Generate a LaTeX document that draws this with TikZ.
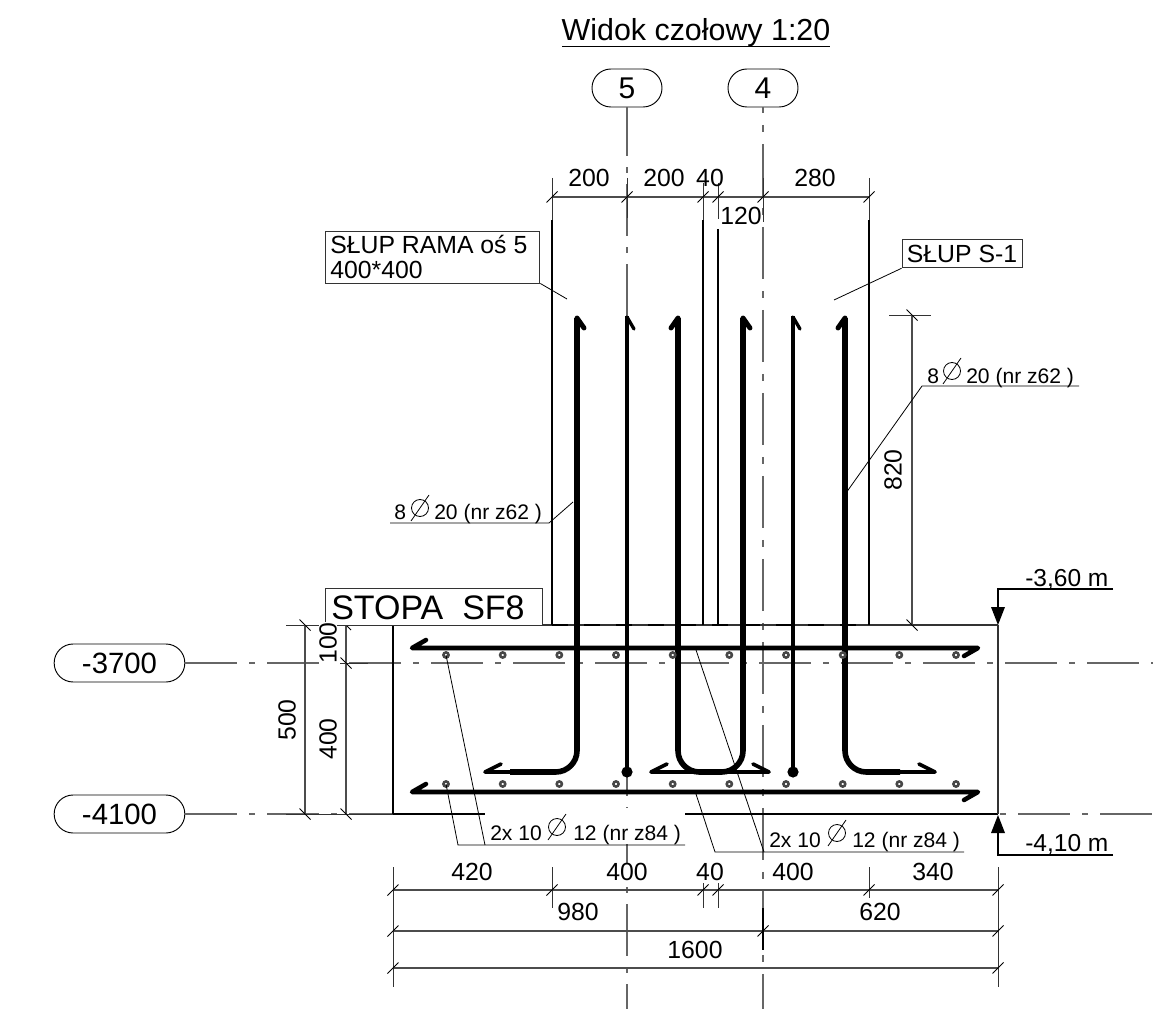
\documentclass[tikz,border=0pt]{standalone}
\usepackage{fontspec}
\setmainfont{Liberation Sans}
\newcommand\fs[1]{\fontsize{#1}{#1}\selectfont}
\newcommand\xtick[2]{\draw[tickline] (#1-5.5,#2+5.5) -- (#1+5.5,#2-5.5);}
\newcommand\ytick[2]{\draw[tickline] (#1-5.5,#2-5.5) -- (#1+5.5,#2+5.5);}
\newcommand\diamsym[2]{\draw[tickline] (#1,#2) circle[radius=8.5]; \draw[tickline] (#1-9,#2+13) -- (#1+9,#2-13);}
\tikzset{
  axisline/.style={draw=black!60,line width=0.85pt},
  dimline/.style={draw=black!70,line width=0.9pt},
  tickline/.style={draw=black,line width=0.6pt},
  extline/.style={draw=black!80,line width=0.7pt},
  leader/.style={draw=black,line width=0.6pt},
  outline/.style={draw=black,line width=1pt},
  wall/.style={draw=black,line width=1.7pt},
  barthick/.style={draw=black,line width=4.2pt,line join=miter},
  barthin/.style={draw=black,line width=2.6pt,line join=miter},
  barmain/.style={draw=black,line width=3.4pt,line join=round,line cap=round},
  hookbar/.style={draw=black,line width=2.8pt,line cap=round,line join=round},
  barhookthick/.style={draw=black,line width=3.7pt,line cap=round},
  barhookthin/.style={draw=black,line width=2.5pt,line cap=round},
  stirrup/.style={draw=black!72,fill=white,line width=1.9pt},
  dimtext/.style={font=\fs{18.6},inner sep=0pt,fill=white},
  labeltext/.style={font=\fs{15.8},inner sep=0pt,anchor=base west},
  bubble/.style={draw=black,line width=0.7pt,rectangle,rounded corners=14.2pt,fill=white,minimum height=28.5pt},
  levelmark/.style={fill=black,draw=none},
}
\begin{document}
\begin{tikzpicture}[x=0.75pt,y=-0.75pt]
\useasboundingbox (0,0) rectangle (1153,1009);
% title
\node[font=\fs{22.8},inner sep=0pt,anchor=base] (title) at (696,41) {Widok czołowy 1:20};
\draw[line width=0.9pt] (562,46.5) -- (830,46.5);
% axis bubbles
\node[bubble,minimum width=52.5pt,font=\fs{22.5}] (b5) at (627,88) {5};
\node[bubble,minimum width=52.5pt,font=\fs{22.5}] (b4) at (763,88) {4};
\node[bubble,minimum width=98pt,font=\fs{22}] (bA) at (119.5,663) {-3700};
\node[bubble,minimum width=98pt,font=\fs{22}] (bB) at (119.5,814) {-4100};
\coordinate (end5) at (627,1009);
\coordinate (end4) at (763,1009);
\coordinate (endA) at (1153,663);
\coordinate (endBl) at (393,814);
\coordinate (startBr) at (998,814);
\coordinate (endBr) at (1153,814);
% centre lines
\draw[axisline,dash pattern=on 39pt off 8.25pt on 4.5pt off 8.25pt,dash phase=2.25pt] (b5.south) -- (end5);
\draw[axisline,dash pattern=on 39pt off 9pt on 5.25pt off 9pt,dash phase=35pt] (b4.south) -- (end4);
\draw[axisline,dash pattern=on 39pt off 9pt on 4.5pt off 9pt] (bA.east) -- (endA);
\draw[axisline,dash pattern=on 39pt off 9pt on 4.5pt off 9pt] (bB.east) -- (endBl);
\draw[axisline,dash pattern=on 39pt off 9pt on 4.5pt off 9pt,dash phase=46.5pt] (startBr) -- (endBr);
% foundation
\draw[outline,draw=black!80] (393,625) -- (998,625);
\draw[outline] (393,625) -- (393,814) -- (998,814);
\draw[draw=black!80,line width=1.4pt] (998,625) -- (998,814);
\draw[draw=black,line width=1.8pt,dash pattern=on 12pt off 12pt] (552,625) -- (869,625);
% columns
\draw[wall] (552,220) -- (552,625);
\draw[wall] (703,220) -- (703,625);
\draw[wall] (718,229) -- (718,625);
\draw[wall] (869,220) -- (869,625);
% top dimension chain
\draw[dimline] (552,197) -- (869,197);
\draw[extline] (552,178) -- (552,220);
\draw[extline] (627,178) -- (627,218);
\draw[extline] (703,183) -- (703,220);
\draw[extline] (718,183) -- (718,219);
\draw[extline] (763,178) -- (763,222);
\draw[extline] (869,178) -- (869,220);
\xtick{552}{197}\xtick{627}{197}\xtick{703}{197}\xtick{718}{197}\xtick{763}{197}\xtick{869}{197}
\node[dimtext,fill=none] (d200a) at (589,178) {200};
\node[dimtext,fill=none] (d200b) at (664,178) {200};
\node[dimtext,fill=none] (d40) at (710,178) {40};
\node[dimtext] (d120) at (741,216) {120};
\node[dimtext,fill=none] (d280) at (815,178) {280};
% column labels
\node[draw=black!80,line width=0.7pt,fill=white,inner sep=0pt,minimum width=161pt,minimum height=39pt] (slup5) at (432.5,257) {};
\node[font=\fs{18.6},inner sep=0pt,anchor=base west] (slup5a) at (330,254) {SŁUP RAMA oś 5};
\node[font=\fs{18.6},inner sep=0pt,anchor=base west] (slup5b) at (330,279) {400*400};
\coordinate (leadA) at (567,299);
\draw[leader] (slup5.south east) -- (leadA);
\node[draw=black!80,line width=0.7pt,fill=white,font=\fs{18.6},inner sep=0pt,minimum width=90pt,minimum height=21.5pt] (slupS) at (962,253.5) {SŁUP S-1};
\coordinate (leadB) at (834,300);
\draw[leader] (slupS.south west) -- (leadB);
% vertical rebars
\draw[barthick] (577,318) -- (577,750);
\draw[barthick,rounded corners=16pt] (577,620) -- (577,772) -- (510,772);
\draw[hookbar] (510,772) -- (485,772) -- (501,764);
\draw[barhookthick] (584,328) -- (577,318);
\draw[barthin] (627,316) -- (627,772);
\draw[barhookthin] (634,329) -- (627,317);
\fill (627,772) circle[radius=5.6];
\draw[barthick,rounded corners=16pt] (678,318) -- (678,772) -- (743,772) -- (743,318);
\draw[barhookthick] (671,328) -- (678,318);
\draw[barhookthick] (750,328) -- (743,318);
\draw[hookbar] (667,764) -- (651,772) -- (769,772) -- (753,764);
\draw[barthin] (793,316) -- (793,772);
\draw[barhookthin] (800,329) -- (793,317);
\fill (793,772) circle[radius=5.6];
\draw[barthick,rounded corners=16pt] (845,620) -- (845,772) -- (900,772);
\draw[barthick] (845,318) -- (845,750);
\draw[hookbar] (900,772) -- (935,772) -- (919,764);
\draw[barhookthick] (838,328) -- (845,318);
% main horizontal bars
\draw[barmain] (426,640) -- (412,648) -- (978,648) -- (964,656);
\draw[barmain] (426,784) -- (412,792) -- (978,792) -- (964,800);
% stirrup rods
\foreach \sx in {446,502.7,559.3,616,672.7,729.3,786,842.7,899.3,956}{
  \draw[stirrup] (\sx,655) circle[radius=2.6];
  \draw[stirrup] (\sx,784) circle[radius=2.6];
}
% mask under first bar label
\node[fill=white,inner sep=0pt,minimum width=150pt,minimum height=27pt] (maskA) at (585,826) {};
% left dimensions
\draw[extline] (286,625) -- (393,625);
\draw[extline] (286,814) -- (393,814);
\draw[extline] (340,663) -- (368,663);
\draw[dimline] (305,625) -- (305,814);
\draw[dimline] (346,625) -- (346,814);
\ytick{305}{625}\ytick{305}{814}\ytick{346}{663}\ytick{346}{814}
\draw[tickline] (346,625) -- (351,630);
\node[dimtext,rotate=90] (d400v) at (328,739) {400};
\node[dimtext,rotate=90] (d500) at (287,720) {500};
% 820 dimension
\draw[extline] (889,315) -- (931,315);
\draw[dimline] (912,315) -- (912,625);
\ytick{912}{315}\ytick{912}{625}
\node[dimtext,fill=none,rotate=90] (d820) at (893,470) {820};
% bar labels column
\coordinate (lA1) at (573,502);
\coordinate (lA2) at (549,523);
\coordinate (lA3) at (390,523);
\draw[leader] (lA1) -- (lA2) -- (lA3);
\node[labeltext] (t8a) at (394,519) {8};
\diamsym{420}{508}
\node[labeltext] (t20a) at (434,519) {20 (nr z62 )};
\coordinate (lB1) at (846,493);
\coordinate (lB2) at (922,386);
\coordinate (lB3) at (1079,386);
\draw[leader] (lB1) -- (lB2) -- (lB3);
\node[labeltext] (t8b) at (927,383) {8};
\diamsym{952}{371}
\node[labeltext] (t20b) at (966,383) {20 (nr z62 )};
% bar labels footing
\coordinate (lC1) at (446,655);
\coordinate (lC2) at (485,845);
\coordinate (lC3) at (446,784);
\coordinate (lC4) at (458,845);
\coordinate (lC5) at (685,845);
\draw[leader] (lC1) -- (lC2);
\draw[leader] (lC3) -- (lC4) -- (lC5);
\node[labeltext] (t2a) at (490,840) {2x 10};
\diamsym{557}{827}
\node[labeltext] (t12a) at (573,840) {12 (nr z84 )};
\coordinate (lD1) at (696,650);
\coordinate (lD2) at (764,852);
\coordinate (lD3) at (696,794);
\coordinate (lD4) at (715,852);
\coordinate (lD5) at (964,852);
\draw[leader] (lD1) -- (lD2);
\draw[leader] (lD3) -- (lD4) -- (lD5);
\node[labeltext] (t2b) at (769,847) {2x 10};
\diamsym{837}{833}
\node[labeltext] (t12b) at (852,847) {12 (nr z84 )};
% level marks
\coordinate (lv1) at (1113,589);
\coordinate (lv2) at (998,589);
\coordinate (lv3) at (998,607);
\draw[line width=2pt] (lv1) -- (lv2) -- (lv3);
\fill[levelmark] (998,625) -- (991,607) -- (1005,607) -- cycle;
\node[font=\fs{18.4},inner sep=0pt,anchor=base west] (lev1) at (1025,586) {-3,60 m};
\coordinate (lv4) at (1113,855);
\coordinate (lv5) at (998,855);
\coordinate (lv6) at (998,833);
\draw[line width=2pt] (lv4) -- (lv5) -- (lv6);
\fill[levelmark] (998,815) -- (991,833) -- (1005,833) -- cycle;
\node[font=\fs{18.4},inner sep=0pt,anchor=base west] (lev2) at (1025,851.5) {-4,10 m};
% footing label
\node[draw=black!80,line width=0.7pt,fill=white,inner sep=0pt,minimum width=162.75pt,minimum height=27.5pt] (stopaBox) at (433.5,607) {};
\node[font=\fs{25.5},inner sep=0pt,anchor=base west] (stopa) at (331,619) {STOPA\ \ SF8};
\node[dimtext,rotate=90] (d100) at (328,643) {100};
% bottom dimensions
\draw[dimline] (393,890) -- (998,890);
\draw[dimline] (393,931) -- (998,931);
\draw[dimline] (393,968) -- (998,968);
\draw[extline] (393,867) -- (393,987);
\draw[extline] (998,867) -- (998,987);
\draw[extline] (552,867) -- (552,908);
\draw[extline] (869,867) -- (869,898);
\draw[extline] (703,883) -- (703,908);
\draw[extline] (718,883) -- (718,908);
\draw[draw=black,line width=1pt] (763,908) -- (763,950);
\xtick{393}{890}\xtick{552}{890}\xtick{703}{890}\xtick{718}{890}\xtick{869}{890}\xtick{998}{890}
\xtick{393}{931}\xtick{763}{931}\xtick{998}{931}
\xtick{393}{968}\xtick{998}{968}
\node[dimtext,fill=none] (b420) at (472,872) {420};
\node[dimtext] (b400a) at (627,872) {400};
\node[dimtext,fill=none] (b40) at (710,872) {40};
\node[dimtext,fill=none] (b400b) at (793,872) {400};
\node[dimtext,fill=none] (b340) at (933,872) {340};
\node[dimtext,fill=none] (b980) at (578,912) {980};
\node[dimtext,fill=none] (b620) at (880,912) {620};
\node[dimtext,fill=none] (b1600) at (695,950) {1600};
\end{tikzpicture}
\end{document}
